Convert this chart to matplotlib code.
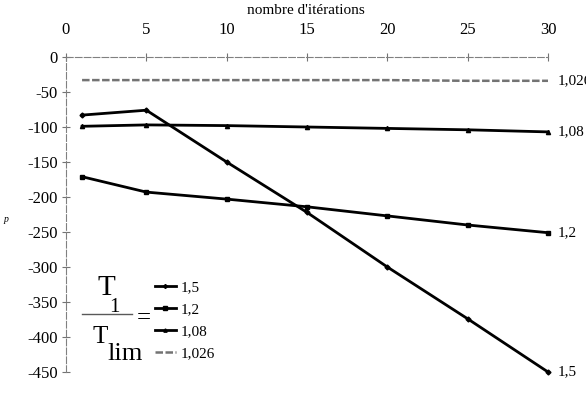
import matplotlib
matplotlib.use("Agg")
import matplotlib.pyplot as plt

plt.rcParams['font.family'] = ['Liberation Serif', 'DejaVu Serif']
plt.rcParams['axes.unicode_minus'] = False

iterations = [1, 5, 10, 15, 20, 25, 30]
p_15 = [-83, -76, -150, -222, -300, -374, -450]
p_12 = [-171, -193, -203, -214, -227, -240, -251]
p_108 = [-99, -97, -98, -100, -102, -104, -107]
p_1026 = [-33, -33, -33, -33, -33, -34, -34]
labels = ['1,5', '1,2', '1,08', '1,026']

W, H = 586, 397
fig = plt.figure(figsize=(W / 100, H / 100), dpi=100)
ax = fig.add_axes([66 / W, 1 - 372 / H, 482 / W, 315 / H])


def fx(x):
    return x / W


def fy(y):
    return 1 - y / H


l1, = ax.plot(iterations, p_15, color='black', lw=2, marker='D', ms=2.5, clip_on=False)
l2, = ax.plot(iterations, p_12, color='black', lw=2, marker='s', ms=3.5, clip_on=False)
l3, = ax.plot(iterations, p_108, color='black', lw=2, marker='^', ms=3, clip_on=False)
l4, = ax.plot(iterations, p_1026, color='0.45', lw=1.8, ls=(0, (3, 1)), clip_on=False)

ax.set_xlim(0, 30)
ax.set_ylim(-450, 0)
ax.xaxis.tick_top()
ax.set_xticks(range(0, 31, 5))
ax.set_yticks(range(-450, 1, 50))
ax.tick_params(direction='inout', length=6, width=0.8, color='0.45', labelsize=12)
ax.tick_params(axis='x', pad=11)
ax.tick_params(axis='y', pad=3)
for s in ['bottom', 'right']:
    ax.spines[s].set_visible(False)
for s in ['top', 'left']:
    ax.spines[s].set_color('0.5')
    ax.spines[s].set_linewidth(0.8)
    ax.spines[s].set_linestyle((0, (6, 2)))

fig.text(fx(306), fy(11), "nombre d'itérations", ha='center', va='center', fontsize=11)
fig.text(fx(6), fy(220), 'p', ha='center', va='center', fontsize=7, style='italic')

# end labels
for series, lab in zip([p_15, p_12, p_108, p_1026], labels):
    ax.annotate(lab, (iterations[-1], series[-1]), xytext=(7, 0), textcoords='offset points',
                ha='left', va='center', fontsize=11, annotation_clip=False)

# fraction T1 / Tlim
fig.text(fx(106), fy(295), 'T', ha='center', va='baseline', fontsize=21)
fig.text(fx(114), fy(312), '1', ha='center', va='baseline', fontsize=15)
fig.add_artist(plt.Line2D([fx(82), fx(132)], [fy(314), fy(314)], color='0.35', lw=1))
fig.text(fx(100), fy(343), 'T', ha='center', va='baseline', fontsize=18)
fig.text(fx(125), fy(360), 'lim', ha='center', va='baseline', fontsize=19)
fig.text(fx(144), fy(324), '=', ha='center', va='baseline', fontsize=18)

fig.legend([l1, l2, l3, l4], labels, loc='upper left',
           bbox_to_anchor=(fx(147), fy(273)), frameon=False, fontsize=11,
           handlelength=1.4, handletextpad=0.3, labelspacing=0.55, borderpad=0,
           markerscale=0.8)

fig.savefig('out.png', dpi=100)
